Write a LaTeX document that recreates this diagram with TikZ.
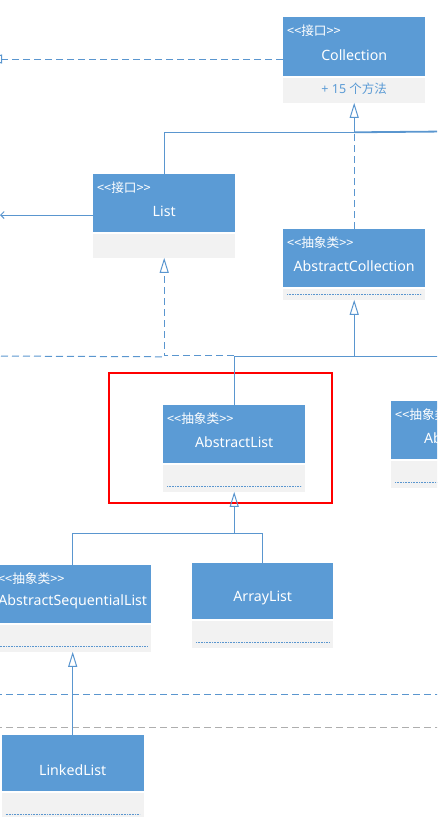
\documentclass[tikz,border=0pt]{standalone}
\usepackage{fontspec}
\setmainfont{Noto Sans}
\newfontfamily\cjk{Noto Sans CJK SC}
\usetikzlibrary{arrows.meta,calc}
\definecolor{hblue}{HTML}{5B9BD5}
\definecolor{lblue}{HTML}{5A96CF}
\definecolor{cgrey}{HTML}{F2F2F2}
\definecolor{dgrey}{HTML}{AEAEAE}
\tikzset{
  hdr/.style={fill=hblue, inner sep=0pt, anchor=north west},
  cmp/.style={fill=cgrey, inner sep=0pt, anchor=north west},
  stereo/.style={text=white, inner sep=0pt, anchor=west, font=\cjk\fontsize{12.7}{14}\selectfont},
  cname/.style={text=white, inner sep=0pt, font=\fontsize{14.2}{16}\selectfont},
  conn/.style={draw=lblue, line width=1pt},
  dsh/.style={dash pattern=on 7pt off 4pt},
  gen/.style={-{Triangle[open, length=15pt, width=9pt, line width=1pt]}},
  sepline/.style={draw=lblue, line width=0.5pt, dash pattern=on 0.8pt off 0.8pt},
}
\newcommand\umlbox[8]{%
  \node[hdr, minimum width=#4pt, minimum height=#5pt] (#1) at (#2,#3) {};
  \node[cmp, minimum width=#4pt, minimum height=#6pt] (#1c) at ($(#1.south west)+(0,1)$) {};
  \node[stereo] (#1s) at ($(#1.north west)+(4,14)$) {#7};
  \node[cname] (#1n) at ($(#1.north)+(0,#5-21)$) {#8};
}
\newcommand\dotsep[1]{%
  \draw[sepline] ($(#1c.south west)+(4,-6)$) -- ($(#1c.south east)+(-4,-6)$);
}
\begin{document}
\begin{tikzpicture}[x=1pt,y=-1pt]
\useasboundingbox (0,0) rectangle (437,817);
\clip (0,0) rectangle (437,817);

% horizontal dashed separators
\coordinate (s1l) at (-5,694);
\coordinate (s1r) at (445,694);
\coordinate (s2l) at (-5,727);
\coordinate (s2r) at (445,727);
\draw[conn, dsh] (s1l) -- (s1r);
\draw[draw=dgrey, line width=1pt, dsh] (s2l) -- (s2r);

% classes
\umlbox{coll}{283}{17}{142}{59}{25}{<<接口>>}{Collection}
\umlbox{list}{93}{174}{142}{58}{24}{<<接口>>}{List}
\umlbox{ac}{283}{229}{142}{58}{11}{<<抽象类>>}{AbstractCollection}
\umlbox{al}{163}{405}{142}{58}{27}{<<抽象类>>}{AbstractList}
\umlbox{aset}{391}{401}{142}{58}{27}{<<抽象类>>}{AbstractSet}
\umlbox{asl}{-6}{565}{157}{58}{27}{<<抽象类>>}{AbstractSequentialList}
\umlbox{arr}{192}{563}{141}{56}{27}{}{ArrayList}
\umlbox{ll}{1.5}{735}{142}{56}{27}{}{LinkedList}
\dotsep{ac}
\dotsep{al}
\dotsep{aset}
\dotsep{asl}
\dotsep{arr}
\dotsep{ll}
\node[text=hblue, inner sep=0pt] (collm) at ($(collc.center)+(0,-1)$)
  {\fontsize{12.5}{14}\selectfont\bfseries + 15 \cjk\mdseries 个方法};

% highlight
\node[draw=red, line width=2pt, inner sep=0pt, minimum width=223pt, minimum height=130pt, anchor=north west] (hl) at (108,372) {};

% connectors
\coordinate (j1) at ($(collc.south)+(0,29.5)$);
\coordinate (r1) at (445,131.5);
\draw[conn] (list.north) |- (j1);
\draw[conn, gen] (j1) -- (collc.south);
\draw[conn, line width=1.8pt] (j1) -- (r1);
\draw[conn, dsh] (ac.north) -- (j1);

\coordinate (j2) at ($(acc.south)+(0,57)$);
\coordinate (r2) at (445,356);
\draw[conn] (al.north) |- (r2);
\draw[conn, gen] (j2) -- (acc.south);

\coordinate (j3a) at ($(listc.south)+(0,98)$);
\coordinate (j3) at ($(listc.south)+(0,99)$);
\coordinate (l3) at (-10,356);
\draw[conn, dsh, gen] (al.north |- j3a) -- (j3a) -- (listc.south);
\draw[conn, dsh] (l3) -- (j3);

\coordinate (j4) at ($(alc.south)+(0,42)$);
\draw[conn] (asl.north) |- (j4);
\draw[conn] (arr.north) |- (j4);
\draw[conn, gen] (j4) -- (alc.south);

\draw[conn, gen] (ll.north) -- (aslc.south);

% lines leaving to the left
\coordinate (lt1) at (-13,59);
\coordinate (lt2) at (0,215);
\draw[conn, dsh, gen] ($(coll.north west)+(0,42)$) -- (lt1);
\draw[conn, -{Straight Barb[length=3.5pt, width=7pt]}] ($(list.north west)+(0,41)$) -- (lt2);
\end{tikzpicture}
\end{document}
